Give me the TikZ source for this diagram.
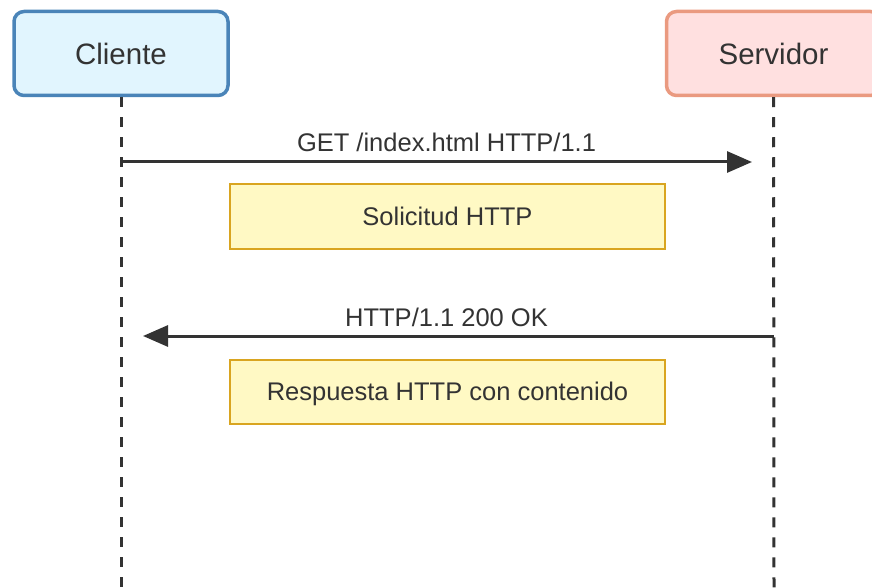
\documentclass[tikz,border=0pt]{standalone}
\usepackage{fontspec}
\setmainfont{Liberation Sans}
\usepackage{tikz}
\usetikzlibrary{arrows.meta, positioning, calc}
\definecolor{ClientFill}{HTML}{E1F5FE}
\definecolor{ClientEdge}{HTML}{4A84B8}
\definecolor{ServerFill}{HTML}{FFE0E0}
\definecolor{ServerEdge}{HTML}{EA9A80}
\definecolor{NoteFill}{HTML}{FFF9C4}
\definecolor{NoteEdge}{HTML}{D9A520}
\definecolor{InkGray}{HTML}{333333}
\tikzset{
  actorbox/.style={rectangle, rounded corners=10pt, line width=3.5pt, minimum width=214pt, minimum height=84pt, inner sep=0pt, text depth=0pt, font=\fontsize{29.5}{34}\selectfont, text=InkGray},
  notebox/.style={rectangle, draw=NoteEdge, fill=NoteFill, line width=2pt, minimum width=435pt, minimum height=64pt, inner sep=0pt, text depth=0pt, font=\fontsize{25.5}{30}\selectfont, text=InkGray},
  msglabel/.style={inner sep=0pt, anchor=base, font=\fontsize{25.5}{30}\selectfont, text=InkGray},
  msgarrow/.style={-{Triangle[length=25pt,width=21pt]}, line width=3pt, InkGray, shorten >=22pt},
  lifeline/.style={line width=3pt, InkGray, dash pattern=on 10pt off 10pt}
}
\begin{document}
\begin{tikzpicture}[x=1pt, y=-1pt]
  \clip (0,0) rectangle (872,588);

  % participantes
  \node[actorbox, draw=ClientEdge, fill=ClientFill] (cliente) at (121,53.5) {Cliente};
  \node[actorbox, draw=ServerEdge, fill=ServerFill, right=435pt of cliente] (servidor) {Servidor};

  % lineas de vida
  \coordinate (cbot) at (121,592);
  \coordinate (sbot) at (774,592);
  \draw[lifeline] (cliente) -- (cbot);
  \draw[lifeline] (servidor) -- (sbot);

  % mensajes
  \coordinate (c1) at (121,162);
  \coordinate (s1) at (774,162);
  \coordinate (c2) at (121,336);
  \coordinate (s2) at (774,336);
  \draw[msgarrow] (c1) -- (s1);
  \node[msglabel] (getlbl) at ($(c1)!0.5!(s1)+(-1,-10)$) {GET /index.html HTTP/1.1};
  \draw[msgarrow] (s2) -- (c2);
  \node[msglabel] (oklbl) at ($(c2)!0.5!(s2)+(-1,-10)$) {HTTP/1.1 200 OK};

  % notas
  \node[notebox] (nota1) at (447.5,216.5) {Solicitud HTTP};
  \node[notebox] (nota2) at (447.5,391.5) {Respuesta HTTP con contenido};
\end{tikzpicture}
\end{document}
